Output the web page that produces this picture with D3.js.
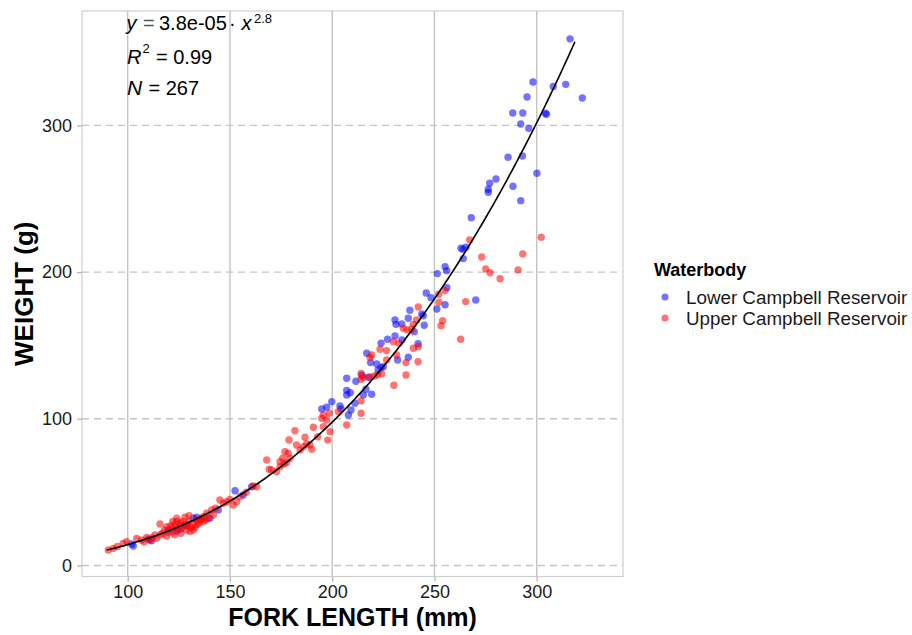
<!DOCTYPE html>
<html>
<head>
<meta charset="utf-8">
<script src="https://cdn.jsdelivr.net/npm/d3@7"></script>
<style>
  html, body { margin: 0; padding: 0; background: #fff; }
  text { font-family: "Liberation Sans", Arial, sans-serif; }
</style>
</head>
<body>
<svg id="chart" width="912" height="635"></svg>
<script>
// ---------------- DATA ----------------
const xTicks = [100, 150, 200, 250, 300];
const yTicks = [0, 100, 200, 300];
const seriesNames = ["Lower Campbell Reservoir", "Upper Campbell Reservoir"];
const seriesColors = ["#0000ff", "#ff0000"];
const fitA = 3.92e-5, fitB = 2.78;      // fitted power curve shown as black line
const fitRange = [89.7, 318.7];

// [fork length mm, weight g]
const lowerCampbell = [
  [316.3,359],[298.2,329.6],[308.1,326.5],[314.2,328],[322.3,318.7],[295.3,319.4],[288.3,308.5],[293.2,308.5],
  [304.2,308.3],[304.8,307.6],[292.2,301],[296.1,298],[286,278.3],[293,279.2],[300.1,267.4],[280.1,263.5],
  [277,260.6],[276.3,256.5],[276.3,254.4],[288.4,258.5],[292.2,248.7],[268,237.1],[263,216.3],[264,215.6],
  [265.4,217],[264.1,209.2],[255.2,203.7],[256,201],[251.4,199],[256.1,189.4],[246,185.8],[248.3,182.6],
  [270.2,181],[255.2,177.8],[251.2,174.9],[238,174],[237.2,168.5],[243.8,171.5],[244.5,170.3],[245,163.8],
  [234,164.7],[240.1,159.4],
  [230.7,167.4],[231.2,164.4],[223.9,151.5],[227.1,154.2],[230.7,156.5],[234.1,153.7],[242,151.2],[237.2,142],
  [232,140.1],[216.9,144.7],[218.8,138.3],[221.8,137.4],[223.9,134.9],[225,135.5],[222.5,133.3],[207.1,127.6],
  [211.6,125.6],[217.7,128.3],[214.5,129.7],[207.1,119.4],[208.8,117.8],[216.5,120.1],[219.3,116.7],[215.2,116.2],
  [207.1,116.2],[199.8,111.7],[197.3,107.9],[194.9,106.7],[203.8,108.7],[204.3,106.7],[211.1,110.6],[209.2,106],
  [207.9,102.6],
  [102.7,13.3],[102,14.7],[110.1,17.9],[111.7,16.9],[119.9,24.2],[124,23.5],[132.1,32.2],[133.7,32.9],
  [140.2,32.2],[144.3,37.8],[152.5,51],[156.5,48.1],[160.6,53.7],[126,25],[129,27.5]
];
const upperCampbell = [
  [267.2,222],[302.2,223.8],[273.1,210.3],[293.2,212.4],[275.1,202.2],[277.2,199.6],[282.1,195.5],[290.9,201.5],
  [252.1,184.9],[255.2,187.4],[252.2,179.5],[265.3,179.9],[242.1,176.2],[254,166.9],[253.2,163.5],[262.8,154.2],
  [236.7,160.6],[239.7,164.4],[241.3,167.4],[234.8,161.7],
  [238.9,161],[229.9,152.6],[223.4,147.4],[226.6,146.5],[232.7,151.5],[239.7,148.1],[242.1,149.2],[236.1,138.3],
  [242,138.9],[231.5,143.5],[226.6,140.1],[218.5,141.9],[219.3,143.5],[236.1,129.9],[230.2,122.9],[214.1,131],
  [214.1,127],[215.2,128.3],[218.5,128.3],[220.6,129.2],[222.1,130.1],[224.2,130.6],[214.1,112.2],[214.1,103.8],
  [207.1,95.8],[203,104.9],[198.6,103.8],[195.7,102.6],[194.9,100.4],[197.3,99.2],[195.7,94.6],[199,91.2],
  [197.8,85.5],[190.8,94.2],[192.9,87.8],[181.8,91.9],[178.9,85.6],[186.7,87.4],[187.5,82.8],[189.1,82.2],
  [185.9,81],[184.3,78.7],[190,79.2],
  [182.6,82.2],[176.9,77.6],[178.5,76.5],[175.8,73.1],[179.4,73.1],[177.7,70.1],[174.5,70.8],[168,71.9],
  [169.2,65.6],[170.4,65.1],[172.8,64],[174.5,67.4],[176.4,69.2],[161.4,54.2],[163.1,53.7],[145.1,44.7],
  [148.4,43.5],[151.6,41.2],[150,45.1],[153.3,43.5],[146.8,42.4],[141.1,37.8],[138.6,35.6],[137,33.3],
  [135.3,31.1],[141.9,34.4],[139.4,32.2],
  [115.8,28.3],[119.1,26.5],[121.5,25.3],[124,32.2],[125.6,27.6],[127.2,26.5],[128.8,24.2],[130.5,23.1],
  [132.1,24.2],[133.7,31],[114.2,18.5],
  [90.5,10.6],[93,11.7],[97.8,15.1],[99.5,16.3],[104.4,18.5],[106.8,17.4],[109.3,19.2],[110.9,17.4],[113.3,20.8],
  [117,22],[118,24],[120,22.5],[121,27],[122,23],[123,28],[124,26],[125,24.5],[126,29],[127,30],[128,28],
  [129,27],[130,30],[131,26],[132,28],[134,28],[135,29],[136,32],[126,22],[123,21],[119,20],[116,21],[128,33],
  [130,34],[124,30],[122,30],[133,26],[137,30],[112,19],[108,16],[95,13],[138,31],[143,39],[155,47],[158,50]
];

// ---------------- LAYOUT ----------------
const svg = d3.select("#chart");
const P = { left: 82, right: 623, top: 11, bottom: 576.5 };

const x = d3.scaleLinear().domain([77.65, 342.2]).range([P.left, P.right]);
const y = d3.scaleLinear().domain([-7.5, 378]).range([P.bottom, P.top]);

const gridColor = "#c4c4c4";

// vertical major grid (solid)
svg.append("g").selectAll("line").data(xTicks).join("line")
  .attr("x1", d => x(d)).attr("x2", d => x(d))
  .attr("y1", P.top).attr("y2", P.bottom)
  .attr("stroke", gridColor).attr("stroke-width", 1.4);

// horizontal grid (dashed)
svg.append("g").selectAll("line").data(yTicks).join("line")
  .attr("x1", P.left).attr("x2", P.right)
  .attr("y1", d => y(d)).attr("y2", d => y(d))
  .attr("stroke", gridColor).attr("stroke-width", 1.4)
  .attr("stroke-dasharray", "7,5");

// panel border
svg.append("rect")
  .attr("x", P.left).attr("y", P.top)
  .attr("width", P.right - P.left).attr("height", P.bottom - P.top)
  .attr("fill", "none").attr("stroke", "#cfcfcf").attr("stroke-width", 1.2);

// axes
const xAxis = svg.append("g").attr("transform", `translate(0,${P.bottom})`)
  .call(d3.axisBottom(x).tickValues(xTicks).tickSize(5).tickPadding(4).tickFormat(d3.format("d")));
const yAxis = svg.append("g").attr("transform", `translate(${P.left},0)`)
  .call(d3.axisLeft(y).tickValues(yTicks).tickSize(5).tickPadding(5).tickFormat(d3.format("d")));
[xAxis, yAxis].forEach(a => {
  a.select(".domain").remove();
  a.selectAll(".tick line").attr("stroke", "#b5b5b5").attr("stroke-width", 1.3);
  a.selectAll(".tick text").attr("fill", "#1a1a1a").style("font-size", "18px")
    .style("font-family", '"Liberation Sans", Arial, sans-serif');
});

// points
const all = [
  ...lowerCampbell.map(d => ({ x: d[0], y: d[1], s: 0 })),
  ...upperCampbell.map(d => ({ x: d[0], y: d[1], s: 1 }))
];
svg.append("g").selectAll("circle").data(all).join("circle")
  .attr("cx", d => x(d.x)).attr("cy", d => y(d.y)).attr("r", 3.7)
  .attr("fill", d => seriesColors[d.s]).attr("fill-opacity", 0.55);

// fitted curve
const curvePts = d3.range(fitRange[0], fitRange[1] + 0.01, (fitRange[1] - fitRange[0]) / 200)
  .map(v => [v, fitA * Math.pow(v, fitB)]);
svg.append("path").datum(curvePts)
  .attr("d", d3.line().x(d => x(d[0])).y(d => y(d[1])))
  .attr("fill", "none").attr("stroke", "#000").attr("stroke-width", 1.6);

// axis titles
svg.append("text").attr("x", (P.left + P.right) / 2).attr("y", 626)
  .attr("text-anchor", "middle").style("font-size", "25px").style("font-weight", "bold")
  .text("FORK LENGTH (mm)");
svg.append("text").attr("transform", `translate(33,${(P.top + P.bottom) / 2}) rotate(-90)`)
  .attr("text-anchor", "middle").style("font-size", "26px").style("font-weight", "bold")
  .text("WEIGHT (g)");

// annotation
const ann = svg.append("g").style("font-size", "20px").attr("fill", "#000");
ann.append("text").attr("x", 126.5).attr("y", 30).style("font-style", "italic").text("y");
ann.append("text").attr("x", 143).attr("y", 30).attr("fill", "#555").text("=");
ann.append("text").attr("x", 159).attr("y", 30).text("3.8e-05");
ann.append("text").attr("x", 229).attr("y", 30).text("·");
ann.append("text").attr("x", 241.5).attr("y", 30).style("font-style", "italic").text("x");
ann.append("text").attr("x", 254).attr("y", 22.5).style("font-size", "13px").text("2.8");

ann.append("text").attr("x", 127).attr("y", 64).style("font-style", "italic").text("R");
ann.append("text").attr("x", 142.5).attr("y", 53).style("font-size", "13px").text("2");
ann.append("text").attr("x", 156).attr("y", 64).text("= 0.99");

ann.append("text").attr("x", 127).attr("y", 95).style("font-style", "italic").style("font-size", "21px").text("N");
ann.append("text").attr("x", 148.5).attr("y", 95).text("= 267");

// legend
const lg = svg.append("g");
lg.append("text").attr("x", 654).attr("y", 276).style("font-size", "18px").style("font-weight", "bold")
  .text("Waterbody");
const item = lg.selectAll("g.item").data(seriesNames).join("g").attr("class", "item")
  .attr("transform", (d, i) => `translate(0,${297 + i * 21})`);
item.append("circle").attr("cx", 665).attr("cy", 0).attr("r", 3.5)
  .attr("fill", (d, i) => seriesColors[i]).attr("fill-opacity", 0.55);
item.append("text").attr("x", 686).attr("y", 0).attr("dy", "0.36em").style("font-size", "18.8px")
  .attr("fill", "#1a1a1a").text(d => d);
</script>
</body>
</html>
